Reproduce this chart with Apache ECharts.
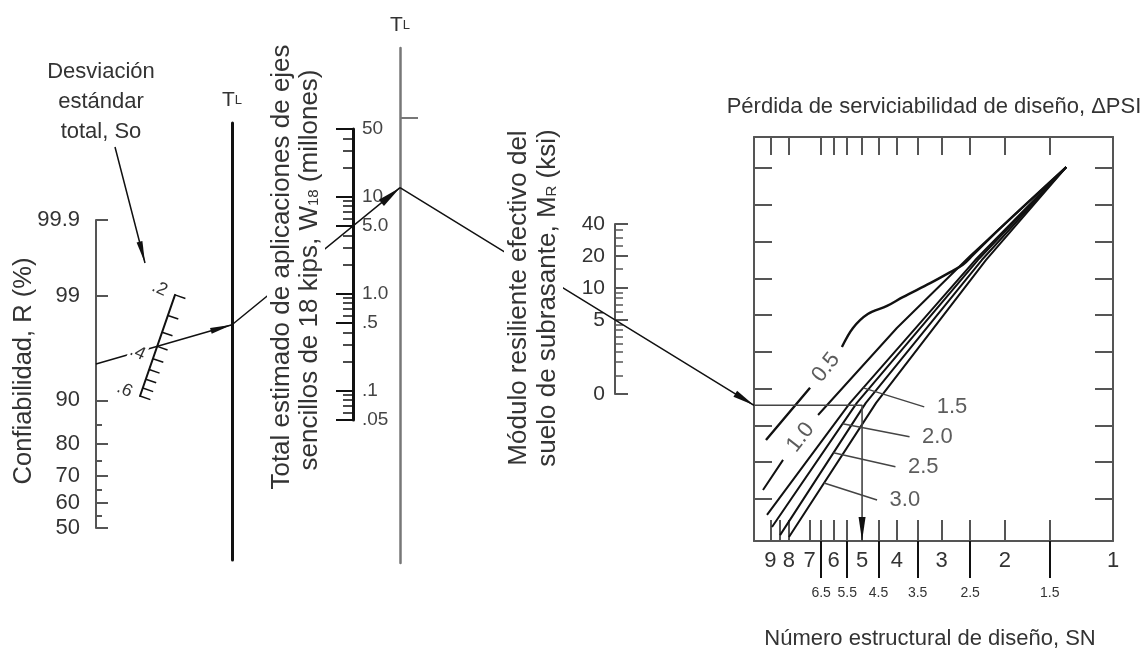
<!DOCTYPE html>
<html lang="es">
<head>
<meta charset="utf-8">
<title>Nomograma de diseño de pavimentos flexibles</title>
<script src="https://cdn.jsdelivr.net/npm/echarts@6.0.0/dist/echarts.min.js"></script>
<style>
  html, body { margin: 0; padding: 0; background: #fff; }
  #chart { width: 1145px; height: 653px; }
</style>
</head>
<body>
<div id="chart"></div>
<script>
// ---------- Scale values ----------
const rMajor = [99.9, 99, 90, 80, 70, 60, 50];
const rMajorLabels = ['99.9', '99', '90', '80', '70', '60', '50'];
const rMinor = [85, 75, 65, 55];

const soTicks = [0.2, 0.25, 0.3, 0.35, 0.4, 0.45, 0.5, 0.55, 0.6];
const soLabelValues = [0.2, 0.4, 0.6];
const soLabels = ['.2', '.4', '.6'];

const w18Major = [50, 10, 5, 1, 0.5, 0.1, 0.05];
const w18Labels = ['50', '10', '5.0', '1.0', '.5', '.1', '.05'];
const w18Minor = [40, 30, 20, 9, 8, 7, 6, 4, 3, 2, 0.9, 0.8, 0.7, 0.6, 0.4, 0.3, 0.2, 0.09, 0.08, 0.07, 0.06];

const mrMajor = [40, 20, 10, 5, 1];
const mrLabels = ['40', '20', '10', '5', '0'];
const mrMinor = [35, 30, 25, 15, 9, 8, 7, 6, 4.5, 4, 3.5, 3, 2.5, 2, 1.5];

const snLabelValues = [9, 8, 7, 6, 5, 4, 3, 2, 1];
const snLabels = ['9', '8', '7', '6', '5', '4', '3', '2', '1'];
const snHalfValues = [6.5, 5.5, 4.5, 3.5, 2.5, 1.5];
const snHalfLabels = ['6.5', '5.5', '4.5', '3.5', '2.5', '1.5'];
const snBottomTicks = [9, 8.5, 8, 7, 6.5, 6, 5.5, 5, 4.5, 4, 3.5, 3, 2.5, 2, 1.5];
const snTopTicks = [9, 8, 6.5, 6, 5.5, 5, 4.5, 4, 3.5, 3, 2.5, 2, 1.5];
const panelTicks = [1, 2, 3, 4, 5, 6, 7, 8, 9, 10];

// ---------- ΔPSI curves: [SN, design index]; null leaves room for the curve label ----------
const psiNames = ['0.5', '1.0', '1.5', '2.0', '2.5', '3.0'];
const psi05 = [[9.26, 2.60], [6.98, 4.02], null, [5.69, 5.13], [5.30, 5.65], [4.82, 6.03], [4.26, 6.25],
               [3.85, 6.49], [3.23, 6.87], [2.84, 7.17], [2.62, 7.37], [2.47, 7.61], [2.06, 8.37], [1.35, 10.03]];
const psi10 = [[9.44, 1.24], [8.30, 2.06], null, [6.63, 3.28], [4.00, 5.65], [2.50, 7.61], [1.35, 10.03]];
const psi15 = [[9.20, 0.56], [5.40, 3.61], [2.42, 7.50], [1.35, 10.03]];
const psi20 = [[8.91, 0.23], [5.17, 3.61], [2.38, 7.50], [1.35, 10.03]];
const psi25 = [[8.46, 0.01], [4.88, 3.61], [2.32, 7.50], [1.35, 10.03]];
const psi30 = [[7.99, -0.04], [4.57, 3.61], [2.26, 7.50], [1.35, 10.03]];
const psiCurves = [psi05, psi10, psi15, psi20, psi25, psi30];

// ---------- Worked example traced through the chart ----------
const exampleR = 95;
const exampleSo = 0.35;
const exampleW18 = 5.0;
const exampleMR = 5;
const exampleSN = 5.0;

// ---------- Layout ----------
const W = 1145, H = 653;
const LAYOUT = {
  r:   { x: 96,  top: 220, bottom: 528 },
  so:  { cx: 140, cy: 396, len: 107, angle: 70.9 },
  tl1: { x: 232, top: 123, bottom: 560 },
  w18: { x: 353, top: 129, bottom: 420 },
  tl2: { x: 400, top: 48,  bottom: 563, tick: 0.864 },
  mr:  { x: 615, top: 224, bottom: 394 },
  panel: { left: 754, right: 1113, top: 137, bottom: 541, yMin: -0.15, yMax: 10.85 }
};
// leader lines of the ΔPSI labels: curve index, design index of the foot, offset of the label end (px)
const LEADERS = [
  { k: 2, at: 4.02, dx: 61, dy: 19 },
  { k: 3, at: 3.04, dx: 67, dy: 13 },
  { k: 4, at: 2.25, dx: 62, dy: 14 },
  { k: 5, at: 1.43, dx: 53, dy: 17 }
];
const POINTER = { from: [115, 147], to: [145, 263] };

const FONT = '"Liberation Sans", Arial, Helvetica, sans-serif';
const TXT = '#333';
const INK = '#111';
const AX = '#555';
const L = Math.log10;

// inverse standard normal (Acklam), used for the reliability scale
function probit(p) {
  const a = [-3.969683028665376e+01, 2.209460984245205e+02, -2.759285104469687e+02, 1.383577518672690e+02, -3.066479806614716e+01, 2.506628277459239e+00];
  const b = [-5.447609879822406e+01, 1.615858368580409e+02, -1.556989798598866e+02, 6.680131188771972e+01, -1.328068155288572e+01];
  const c = [-7.784894002430293e-03, -3.223964580411365e-01, -2.400758277161838e+00, -2.549732539343734e+00, 4.374664141464968e+00, 2.938163982698783e+00];
  const d = [7.784695709041462e-03, 3.224671290700398e-01, 2.445134137142996e+00, 3.754408661907416e+00];
  const pl = 0.02425, ph = 1 - pl;
  let q, r;
  if (p < pl) {
    q = Math.sqrt(-2 * Math.log(p));
    return (((((c[0] * q + c[1]) * q + c[2]) * q + c[3]) * q + c[4]) * q + c[5]) / ((((d[0] * q + d[1]) * q + d[2]) * q + d[3]) * q + 1);
  }
  if (p <= ph) {
    q = p - 0.5; r = q * q;
    return (((((a[0] * r + a[1]) * r + a[2]) * r + a[3]) * r + a[4]) * r + a[5]) * q / (((((b[0] * r + b[1]) * r + b[2]) * r + b[3]) * r + b[4]) * r + 1);
  }
  q = Math.sqrt(-2 * Math.log(1 - p));
  return -(((((c[0] * q + c[1]) * q + c[2]) * q + c[3]) * q + c[4]) * q + c[5]) / ((((d[0] * q + d[1]) * q + d[2]) * q + d[3]) * q + 1);
}
const zR = r => probit(r / 100);

const fmt = (vals, labels) => v => {
  let b = 0;
  for (let i = 1; i < vals.length; i++) if (Math.abs(vals[i] - v) < Math.abs(vals[b] - v)) b = i;
  return labels[b];
};
const txt = (size, extra) => Object.assign({ color: TXT, fontFamily: FONT, fontSize: size }, extra || {});

function scaleAxis(o) {
  return Object.assign({
    type: 'value',
    splitLine: { show: false }, splitArea: { show: false },
    axisLine: { show: false, onZero: false },
    axisTick: { show: false },
    axisLabel: { show: false }
  }, o);
}
const lineOn = (color, width) => ({ show: true, onZero: false, lineStyle: { color: color, width: width } });

// ---------- Grids ----------
const P = LAYOUT.panel;
const grids = [
  { left: 0, top: 0, width: W, height: H },
  { left: LAYOUT.r.x, top: LAYOUT.r.top, width: 1, height: LAYOUT.r.bottom - LAYOUT.r.top },
  { left: LAYOUT.tl1.x, top: LAYOUT.tl1.top, width: 1, height: LAYOUT.tl1.bottom - LAYOUT.tl1.top },
  { left: LAYOUT.w18.x - 1, top: LAYOUT.w18.top, width: 1, height: LAYOUT.w18.bottom - LAYOUT.w18.top },
  { left: LAYOUT.tl2.x - 1, top: LAYOUT.tl2.top, width: 1, height: LAYOUT.tl2.bottom - LAYOUT.tl2.top },
  { left: LAYOUT.mr.x, top: LAYOUT.mr.top, width: 1, height: LAYOUT.mr.bottom - LAYOUT.mr.top },
  { left: P.left, top: P.top, width: P.right - P.left, height: P.bottom - P.top }
].map(g => Object.assign({ outerBoundsMode: 'none', containLabel: false }, g));

const hiddenX = gi => ({ gridIndex: gi, type: 'value', min: 0, max: 1, show: false });
const snMin = 0, snMax = 1; // log10 of SN = 1 .. 10

const xAxes = [
  { gridIndex: 0, type: 'value', min: 0, max: W, show: false },
  hiddenX(1), hiddenX(2), hiddenX(3), hiddenX(4), hiddenX(5),
  // structural number, main scale
  scaleAxis({ gridIndex: 6, position: 'bottom', inverse: true, min: snMin, max: snMax,
    axisLine: lineOn(AX, 2),
    axisTick: { show: true, inside: true, length: 21, customValues: snBottomTicks.map(L), lineStyle: { color: AX, width: 2 } },
    axisLabel: Object.assign({ show: true, customValues: snLabelValues.map(L), formatter: fmt(snLabelValues.map(L), snLabels), margin: 9 }, txt(22)) }),
  // structural number, half values
  scaleAxis({ gridIndex: 6, position: 'bottom', inverse: true, min: snMin, max: snMax,
    axisTick: { show: true, inside: false, length: 37, customValues: snHalfValues.map(L), lineStyle: { color: INK, width: 2 } },
    axisLabel: Object.assign({ show: true, customValues: snHalfValues.map(L), formatter: fmt(snHalfValues.map(L), snHalfLabels), margin: 45 }, txt(14)) }),
  // top edge of the panel
  scaleAxis({ gridIndex: 6, position: 'top', inverse: true, min: snMin, max: snMax,
    axisLine: lineOn(AX, 2),
    axisTick: { show: true, inside: true, length: 18, customValues: snTopTicks.map(L), lineStyle: { color: AX, width: 2 } } })
];

const tlName = { name: '{t|T}{l|L}', nameLocation: 'end',
  nameTextStyle: { color: TXT, fontFamily: FONT, rich: { t: { fontSize: 21, color: TXT, fontFamily: FONT }, l: { fontSize: 13, color: TXT, fontFamily: FONT } } } };

const yAxes = [
  { gridIndex: 0, type: 'value', min: 0, max: H, inverse: true, show: false },
  // reliability R (%)
  scaleAxis({ gridIndex: 1, position: 'left', min: 0, max: zR(rMajor[0]),
    axisLine: lineOn(AX, 2),
    axisTick: { show: true, inside: true, length: 12, customValues: rMajor.map(zR), lineStyle: { color: AX, width: 2 } },
    axisLabel: Object.assign({ show: true, customValues: rMajor.map(zR), formatter: fmt(rMajor.map(zR), rMajorLabels), margin: 16 }, txt(22)) }),
  scaleAxis({ gridIndex: 1, position: 'left', min: 0, max: zR(rMajor[0]),
    axisTick: { show: true, inside: true, length: 6, customValues: rMinor.map(zR), lineStyle: { color: AX, width: 2 } } }),
  // first turning line
  scaleAxis(Object.assign({ gridIndex: 2, position: 'left', min: 0, max: 1, axisLine: lineOn(INK, 3), nameGap: 12 }, tlName)),
  // W18 (millions)
  scaleAxis({ gridIndex: 3, position: 'right', min: L(0.05), max: L(50),
    axisLine: lineOn(INK, 3),
    axisTick: { show: true, inside: true, length: 17, customValues: w18Major.map(L), lineStyle: { color: INK, width: 2 } },
    axisLabel: Object.assign({ show: true, customValues: w18Major.map(L), formatter: fmt(w18Major.map(L), w18Labels), margin: 9 }, txt(19, { color: '#444' })) }),
  scaleAxis({ gridIndex: 3, position: 'right', min: L(0.05), max: L(50),
    axisTick: { show: true, inside: true, length: 10, customValues: w18Minor.map(L), lineStyle: { color: INK, width: 1.5 } } }),
  // second turning line
  scaleAxis(Object.assign({ gridIndex: 4, position: 'right', min: 0, max: 1, axisLine: lineOn('#777', 2.5), nameGap: 12,
    axisTick: { show: true, inside: false, length: 18, customValues: [LAYOUT.tl2.tick], lineStyle: { color: '#777', width: 2 } } }, tlName)),
  // resilient modulus MR (ksi)
  scaleAxis({ gridIndex: 5, position: 'left', min: L(1), max: L(40),
    axisLine: lineOn(AX, 2),
    axisTick: { show: true, inside: true, length: 13, customValues: mrMajor.map(L), lineStyle: { color: AX, width: 2 } },
    axisLabel: Object.assign({ show: true, customValues: mrMajor.map(L), formatter: fmt(mrMajor.map(L), mrLabels), margin: 10 }, txt(21)) }),
  scaleAxis({ gridIndex: 5, position: 'left', min: L(1), max: L(40),
    axisTick: { show: true, inside: true, length: 8, customValues: mrMinor.map(L), lineStyle: { color: AX, width: 1.5 } } }),
  // panel sides
  scaleAxis({ gridIndex: 6, position: 'left', min: P.yMin, max: P.yMax, axisLine: lineOn(AX, 2),
    axisTick: { show: true, inside: true, length: 18, customValues: panelTicks, lineStyle: { color: AX, width: 2 } } }),
  scaleAxis({ gridIndex: 6, position: 'right', min: P.yMin, max: P.yMax, axisLine: lineOn(AX, 2),
    axisTick: { show: true, inside: true, length: 18, customValues: panelTicks, lineStyle: { color: AX, width: 2 } } })
];

// standard deviation So: a slanted scale built from two polar radius axes along the same segment.
// Polar 0 runs upward from the .6 end and carries the labels (left side);
// polar 1 runs downward from the .2 end so that its ticks fall on the right side.
const S = LAYOUT.so;
const soRad = S.angle * Math.PI / 180;
const soTop = [S.cx + S.len * Math.cos(soRad), S.cy - S.len * Math.sin(soRad)];
const polar = [
  { center: [S.cx, S.cy], radius: [0, S.len] },
  { center: soTop, radius: [0, S.len] }
];
const angleAxis = [
  { polarIndex: 0, type: 'value', min: 0, max: 360, startAngle: S.angle, show: false },
  { polarIndex: 1, type: 'value', min: 0, max: 360, startAngle: S.angle + 180, show: false }
];
const soMin = L(soTicks[0]), soMax = L(soTicks[soTicks.length - 1]);
const radiusAxis = [
  scaleAxis({ polarIndex: 0, min: soMin, max: soMax, inverse: true, z: 3,
    axisLine: { show: true, lineStyle: { color: INK, width: 2 } },
    axisLabel: Object.assign({ show: true, customValues: soLabelValues.map(L), formatter: fmt(soLabelValues.map(L), soLabels),
      margin: 8, rotate: -25, backgroundColor: '#fff', padding: [0, 1] }, txt(18)) }),
  scaleAxis({ polarIndex: 1, min: soMin, max: soMax, z: 3,
    axisTick: { show: true, length: 11, customValues: soTicks.map(L), lineStyle: { color: INK, width: 1.5 } } })
];

// ---------- Titles ----------
const vText = (x, y, text, rich) => ({ type: 'text', x: x, y: y, rotation: Math.PI / 2, z: 10,
  style: { text: text, fontSize: 26, fontFamily: FONT, fill: TXT, align: 'center', verticalAlign: 'middle',
    backgroundColor: '#fff', padding: [2, 3], rich: rich || {} } });
const sub = { s: { fontSize: 15, fill: TXT, fontFamily: FONT, padding: [8, 0, 0, 0] } };
const graphic = { elements: [
  { type: 'text', x: 101, y: 102, z: 10, style: { text: 'Desviación\nestándar\ntotal, So', fontSize: 22, fontFamily: FONT, fill: TXT,
    align: 'center', verticalAlign: 'middle', lineHeight: 30 } },
  { type: 'text', x: 24, y: 371, rotation: Math.PI / 2, z: 10,
    style: { text: 'Confiabilidad, R (%)', fontSize: 25.5, fontFamily: FONT, fill: TXT, align: 'center', verticalAlign: 'middle' } },
  vText(282, 267, 'Total estimado de aplicaciones de ejes'),
  vText(310, 270, 'sencillos de 18 kips, W{s|18} (millones)', sub),
  vText(519, 298, 'Módulo resiliente efectivo del'),
  vText(548, 298, 'suelo de subrasante, M{s|R} (ksi)', sub),
  { type: 'text', x: 934, y: 107, z: 10, style: { text: 'Pérdida de serviciabilidad de diseño, ΔPSI', fontSize: 22, fontFamily: FONT, fill: TXT, align: 'center', verticalAlign: 'middle' } },
  { type: 'text', x: 930, y: 639, z: 10, style: { text: 'Número estructural de diseño, SN', fontSize: 22, fontFamily: FONT, fill: TXT, align: 'center', verticalAlign: 'middle' } }
] };

const option = {
  animation: false,
  backgroundColor: '#fff',
  grid: grids, xAxis: xAxes, yAxis: yAxes,
  polar: polar, angleAxis: angleAxis, radiusAxis: radiusAxis,
  graphic: graphic,
  series: []
};

const chart = echarts.init(document.getElementById('chart'), null, { renderer: 'canvas', width: W, height: H });
chart.setOption(option);

// ---------- Trace the worked example through the scales ----------
const F = {
  r: { xAxisIndex: 1, yAxisIndex: 1 }, tl1: { xAxisIndex: 2, yAxisIndex: 3 }, w18: { xAxisIndex: 3, yAxisIndex: 4 },
  tl2: { xAxisIndex: 4, yAxisIndex: 6 }, mr: { xAxisIndex: 5, yAxisIndex: 7 }, panel: { xAxisIndex: 6, yAxisIndex: 9 }
};
const px = (f, v) => chart.convertToPixel(f, v);
const extendToX = (p, q, x) => [x, p[1] + (q[1] - p[1]) * (x - p[0]) / (q[0] - p[0])];

const pR = px(F.r, [0, zR(exampleR)]);
const pSo = px({ polarIndex: 0 }, [L(exampleSo), 0]);
const pT1 = extendToX(pR, pSo, px(F.tl1, [0, 0])[0]);
const pW = px(F.w18, [1, L(exampleW18)]);
const pT2 = extendToX(pT1, pW, px(F.tl2, [1, 0])[0]);
const pM = px(F.mr, [0, L(exampleMR)]);
const pP = extendToX(pT2, pM, px(F.panel, [snMax, 0])[0]);
const pSN = px(F.panel, [L(exampleSN), P.yMin]);
const pCorner = [pSN[0], pP[1]];

function arrow(from, tip, len, width) {
  const dx = tip[0] - from[0], dy = tip[1] - from[1], d = Math.hypot(dx, dy);
  const ux = dx / d, uy = dy / d;
  const c = [tip[0] - ux * len / 2, tip[1] - uy * len / 2];
  return [{ coord: [c[0] - ux, c[1] - uy], symbol: 'none' }, { coord: c, symbol: 'triangle', symbolSize: [width, len] }];
}

const guides = [pR, pT1, null, pT1, pT2, null, pT2, pP, null, POINTER.from, POINTER.to];
const turn = [pP, pCorner, pSN];
const arrows = [
  arrow(pR, pT1, 22, 6),
  arrow(pT1, pT2, 24, 8),
  arrow(pT2, pP, 22, 7),
  arrow(pCorner, pSN, 24, 7),
  arrow(POINTER.from, POINTER.to, 22, 6)
];

// ---------- Curve labels ----------
const toPanelPx = p => px(F.panel, [L(p[0]), p[1]]);
const inlineLabels = [];
psiCurves.forEach((curve, k) => {
  const gap = curve.indexOf(null);
  if (gap < 0) return;
  const a = toPanelPx(curve[gap - 1]), b = toPanelPx(curve[gap + 1]);
  const ang = Math.atan2(a[1] - b[1], b[0] - a[0]) * 180 / Math.PI;
  inlineLabels.push({ value: [(a[0] + b[0]) / 2, (a[1] + b[1]) / 2],
    label: { show: true, formatter: psiNames[k], rotate: ang, position: 'inside' } });
});
const leaderSegs = [];
const leaderLabels = [];
LEADERS.forEach(ld => {
  const c = psiCurves[ld.k];
  let foot = null;
  for (let i = 0; i < c.length - 1 && !foot; i++) {
    const p = c[i], q = c[i + 1];
    if (!p || !q) continue;
    if ((ld.at - p[1]) * (ld.at - q[1]) <= 0) {
      const t = (ld.at - p[1]) / (q[1] - p[1]);
      foot = toPanelPx([Math.pow(10, L(p[0]) + t * (L(q[0]) - L(p[0]))), ld.at]);
    }
  }
  const end = [foot[0] + ld.dx, foot[1] + ld.dy];
  leaderSegs.push(foot, end, null);
  leaderLabels.push({ value: end, label: { show: true, formatter: psiNames[ld.k], position: 'right', distance: 12 } });
});

const overlay = { xAxisIndex: 0, yAxisIndex: 0 };
option.series = [
  ...psiCurves.map((curve, k) => ({
    type: 'line', name: 'ΔPSI ' + psiNames[k], xAxisIndex: 6, yAxisIndex: 9,
    data: curve.map(p => p ? [L(p[0]), p[1]] : null),
    smooth: k === 0 ? 0.35 : false, connectNulls: false, symbol: 'none', silent: true,
    lineStyle: { color: INK, width: k === 0 ? 2.4 : 2 }, z: 2
  })),
  Object.assign({ type: 'line', name: 'trazado', data: guides, connectNulls: false, symbol: 'none', silent: true,
    lineStyle: { color: INK, width: 1.5 }, z: 2,
    markLine: { silent: true, animation: false, label: { show: false }, lineStyle: { color: INK, width: 1.5, type: 'solid' },
      itemStyle: { color: INK }, emphasis: { disabled: true }, data: arrows } }, overlay),
  Object.assign({ type: 'line', name: 'SN', data: turn, symbol: 'none', silent: true,
    lineStyle: { color: '#444', width: 1.6 }, z: 2 }, overlay),
  Object.assign({ type: 'line', name: 'guías', data: leaderSegs, connectNulls: false, symbol: 'none', silent: true,
    lineStyle: { color: '#444', width: 1.5 }, z: 2 }, overlay),
  Object.assign({ type: 'scatter', name: 'etiquetas', data: inlineLabels.concat(leaderLabels), symbolSize: 1, silent: true,
    itemStyle: { color: 'rgba(0,0,0,0)' }, label: txt(22), z: 4 }, overlay)
];

chart.setOption(option, true);
</script>
</body>
</html>
